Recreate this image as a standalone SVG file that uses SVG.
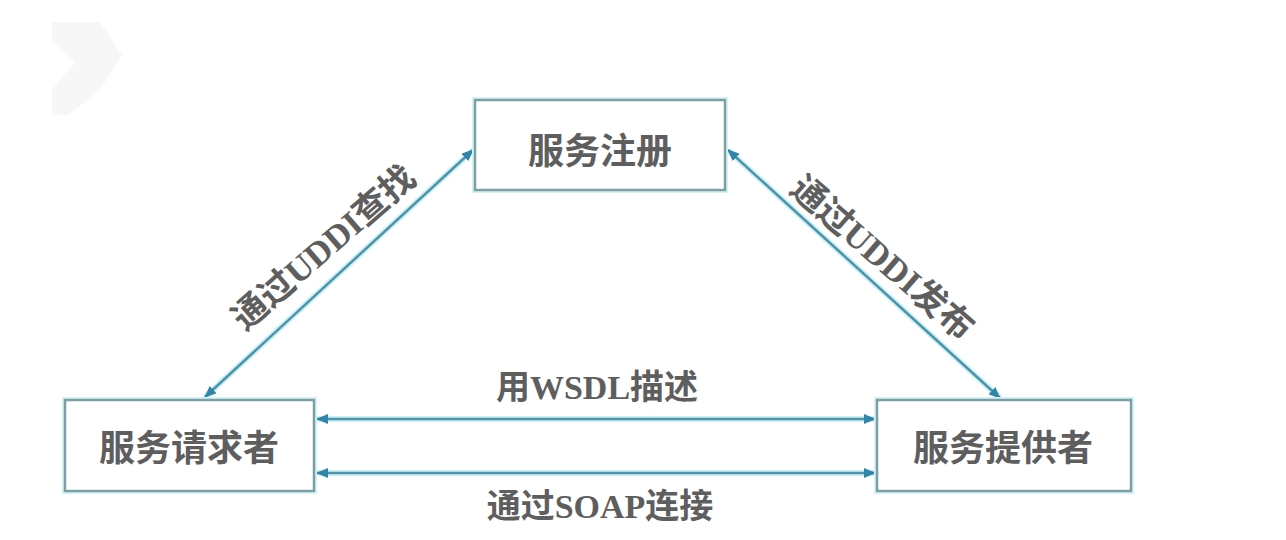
<svg xmlns="http://www.w3.org/2000/svg" width="1286" height="540" viewBox="0 0 1286 540">
  <defs>
    <style>
      .box { fill: #ffffff; stroke: #7d9ea4; stroke-width: 2.5; }
      .halo { fill: none; stroke: #d4f4f8; stroke-width: 6; }
      .lineHalo { fill: none; stroke: #cdf1f6; stroke-width: 6; }
      .line { fill: none; stroke: #4d93a9; stroke-width: 2.5; marker-start: url(#ah); marker-end: url(#ah); }
      .lbl { font-family: "Liberation Serif", "Noto Sans CJK SC", serif; font-weight: bold; fill: #5e5e5e; text-anchor: middle; dominant-baseline: central; }
      .node { font-size: 36px; }
      .edge { font-size: 34px; }
      .diag { font-size: 35px; }
    </style>
    <marker id="ah" viewBox="0 0 12 10" refX="11" refY="5" markerWidth="12" markerHeight="10" markerUnits="userSpaceOnUse" orient="auto-start-reverse">
      <path d="M0,0 L12,5 L0,10 Z" fill="#2f86a8"/>
    </marker>
  </defs>
  <rect width="1286" height="540" fill="#ffffff"/>
  <path d="M52,22 L100,22 L122,55 L100,90 L68,115 L52,115 L52,90 L75,62 L52,40 Z" fill="#f7f7f7"/>

  <g id="connectors">
    <line class="lineHalo" x1="205" y1="397" x2="473" y2="150"/>
    <line class="lineHalo" x1="728" y1="150" x2="1000" y2="398"/>
    <line class="lineHalo" x1="317" y1="419" x2="875" y2="419"/>
    <line class="lineHalo" x1="317" y1="473" x2="875" y2="473"/>
    <line class="line" x1="205" y1="397" x2="473" y2="150"/>
    <line class="line" x1="728" y1="150" x2="1000" y2="398"/>
    <line class="line" x1="317" y1="419" x2="875" y2="419"/>
    <line class="line" x1="317" y1="473" x2="875" y2="473"/>
    <text class="lbl diag" transform="translate(324,248) rotate(-41)">通过UDDI查找</text>
    <text class="lbl diag" transform="translate(882,258) rotate(41)">通过UDDI发布</text>
    <text class="lbl edge" x="597" y="387">用WSDL描述</text>
    <text class="lbl edge" x="600" y="506">通过SOAP连接</text>
  </g>

  <g id="node-registry">
    <rect class="halo" x="475" y="100" width="250" height="90"/>
    <rect class="box" x="475" y="100" width="250" height="90"/>
    <text class="lbl node" x="600" y="152">服务注册</text>
  </g>

  <g id="node-requester">
    <rect class="halo" x="65" y="400" width="249" height="91"/>
    <rect class="box" x="65" y="400" width="249" height="91"/>
    <text class="lbl node" x="189" y="449">服务请求者</text>
  </g>

  <g id="node-provider">
    <rect class="halo" x="877" y="400" width="254" height="91"/>
    <rect class="box" x="877" y="400" width="254" height="91"/>
    <text class="lbl node" x="1003" y="449">服务提供者</text>
  </g>
</svg>
